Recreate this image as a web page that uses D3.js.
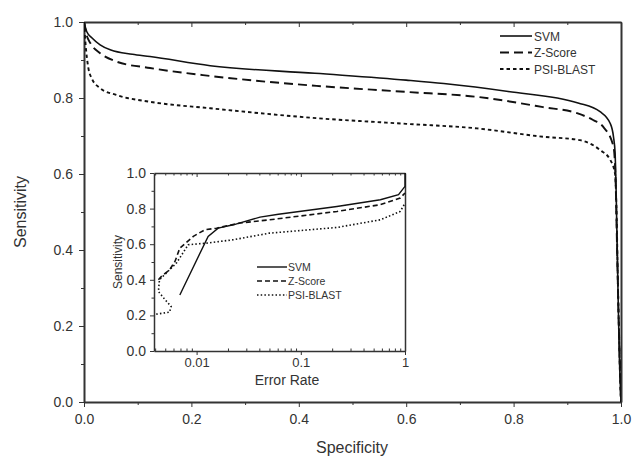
<!DOCTYPE html>
<html>
<head>
<meta charset="utf-8">
<script src="https://cdn.jsdelivr.net/npm/d3@7"></script>
<style>
  body { margin: 0; background: #fff; }
  svg { font-family: "Liberation Sans", Arial, sans-serif; }
  .axis path, .axis line { stroke: #333; }
  .axis text { fill: #333; }
</style>
</head>
<body>
<script>
// main ROC curves: specificity (x) vs sensitivity (y)
const svmX = [0, 0.005, 0.015, 0.03, 0.05, 0.09, 0.123, 0.235, 0.43, 0.6, 0.67, 0.79, 0.92, 0.961, 0.98, 0.986, 0.989, 0.991, 0.993, 0.995, 0.997, 1.0];
const svmY = [1.0, 0.975, 0.958, 0.94, 0.926, 0.915, 0.909, 0.885, 0.865, 0.847, 0.838, 0.817, 0.787, 0.764, 0.733, 0.698, 0.655, 0.55, 0.4, 0.25, 0.12, 0.0];

const zX = [0, 0.005, 0.012, 0.03, 0.06, 0.123, 0.235, 0.433, 0.6, 0.732, 0.855, 0.918, 0.948, 0.967, 0.986, 0.99, 0.992, 0.994, 0.996, 0.998, 1.0];
const zY = [1.0, 0.965, 0.944, 0.918, 0.896, 0.879, 0.858, 0.832, 0.816, 0.803, 0.776, 0.76, 0.742, 0.724, 0.672, 0.58, 0.45, 0.32, 0.2, 0.1, 0.0];

const psiX = [0, 0.003, 0.008, 0.015, 0.03, 0.06, 0.123, 0.235, 0.433, 0.6, 0.732, 0.855, 0.924, 0.961, 0.98, 0.989, 0.992, 0.994, 0.996, 0.998, 1.0];
const psiY = [1.0, 0.94, 0.88, 0.85, 0.826, 0.808, 0.79, 0.773, 0.747, 0.732, 0.72, 0.698, 0.689, 0.663, 0.637, 0.6, 0.48, 0.33, 0.2, 0.08, 0.0];

// inset: error rate (log x) vs sensitivity
const inSvmX = [0.0069, 0.0129, 0.0161, 0.0225, 0.0406, 0.061, 0.222, 0.58, 0.867, 1.0, 1.0];
const inSvmY = [0.315, 0.644, 0.69, 0.709, 0.752, 0.768, 0.812, 0.85, 0.878, 0.925, 1.0];

const inZX = [0.0043, 0.0046, 0.0055, 0.0062, 0.0069, 0.0093, 0.012, 0.0155, 0.026, 0.05, 0.222, 0.58, 0.9, 1.0];
const inZY = [0.40, 0.419, 0.456, 0.503, 0.578, 0.644, 0.681, 0.69, 0.719, 0.737, 0.784, 0.822, 0.859, 0.888];

const inPsiX = [0.0041, 0.0055, 0.0057, 0.005, 0.0043, 0.0044, 0.0053, 0.0064, 0.0072, 0.0083, 0.0125, 0.0225, 0.05, 0.222, 0.58, 0.9, 1.0];
const inPsiY = [0.207, 0.218, 0.25, 0.287, 0.334, 0.40, 0.447, 0.494, 0.54, 0.597, 0.606, 0.625, 0.662, 0.694, 0.737, 0.784, 0.83];

const seriesNames = ['SVM', 'Z-Score', 'PSI-BLAST'];
const mainTicks = [0, 0.2, 0.4, 0.6, 0.8, 1.0];
const mainMinor = [0.1, 0.3, 0.5, 0.7, 0.9];
const insetXTicks = [0.01, 0.1, 1];
const insetXMinor = [0.004, 0.005, 0.006, 0.007, 0.008, 0.009, 0.02, 0.03, 0.04, 0.05, 0.06, 0.07, 0.08, 0.09,
  0.2, 0.3, 0.4, 0.5, 0.6, 0.7, 0.8, 0.9];

const mainDash = ['none', '9,5', '3.5,3'];
const insetDash = ['none', '5,3', '1.5,2.2'];

const svg = d3.select('body').append('svg')
  .attr('width', 632)
  .attr('height', 458);

// ---- main plot ----
const x = d3.scaleLinear().domain([0, 1]).range([84, 621]);
const y = d3.scaleLinear().domain([0, 1]).range([402, 22]);

const fmt = d3.format('.1f');

svg.append('g').attr('class', 'axis')
  .attr('transform', 'translate(0,402)')
  .call(d3.axisBottom(x).tickValues(mainTicks).tickFormat(fmt).tickSizeInner(5).tickSizeOuter(0).tickPadding(7))
  .call(g => g.selectAll('text').attr('font-size', 14))
  .call(g => g.select('.domain').attr('stroke-width', 2));
svg.append('g').attr('class', 'axis')
  .attr('transform', 'translate(0,402)')
  .call(d3.axisBottom(x).tickValues(mainMinor).tickFormat('').tickSizeInner(3).tickSizeOuter(0))
  .call(g => g.select('.domain').remove());

svg.append('g').attr('class', 'axis')
  .attr('transform', 'translate(0,22)')
  .call(d3.axisTop(x).tickValues(mainTicks).tickFormat('').tickSizeInner(-5).tickSizeOuter(0))
  .call(g => g.select('.domain').attr('stroke-width', 2));
svg.append('g').attr('class', 'axis')
  .attr('transform', 'translate(0,22)')
  .call(d3.axisTop(x).tickValues(mainMinor).tickFormat('').tickSizeInner(-3).tickSizeOuter(0))
  .call(g => g.select('.domain').remove());

svg.append('g').attr('class', 'axis')
  .attr('transform', 'translate(84,0)')
  .call(d3.axisLeft(y).tickValues(mainTicks).tickFormat(fmt).tickSizeInner(5).tickSizeOuter(0).tickPadding(6))
  .call(g => g.selectAll('text').attr('font-size', 14))
  .call(g => g.select('.domain').attr('stroke-width', 2));
svg.append('g').attr('class', 'axis')
  .attr('transform', 'translate(84,0)')
  .call(d3.axisLeft(y).tickValues(mainMinor).tickFormat('').tickSizeInner(3).tickSizeOuter(0))
  .call(g => g.select('.domain').remove());

svg.append('g').attr('class', 'axis')
  .attr('transform', 'translate(621,0)')
  .call(d3.axisRight(y).tickValues([]).tickSizeOuter(0))
  .call(g => g.select('.domain').attr('stroke-width', 2).attr('stroke', '#666'));

svg.append('text')
  .attr('x', 352).attr('y', 453)
  .attr('text-anchor', 'middle')
  .attr('font-size', 16).attr('fill', '#333')
  .text('Specificity');
svg.append('text')
  .attr('transform', 'translate(26,212) rotate(-90)')
  .attr('text-anchor', 'middle')
  .attr('font-size', 16).attr('fill', '#333')
  .text('Sensitivity');

svg.append('clipPath').attr('id', 'mainclip')
  .append('rect').attr('x', 84).attr('y', 21).attr('width', 537).attr('height', 381);

const mainSeries = [[svmX, svmY], [zX, zY], [psiX, psiY]];
const mainLine = d3.line()
  .x(d => x(d[0]))
  .y(d => y(d[1]))
  .curve(d3.curveMonotoneX);

svg.append('g').attr('clip-path', 'url(#mainclip)')
  .selectAll('path')
  .data(mainSeries)
  .enter().append('path')
  .attr('d', s => mainLine(s[0].map((v, i) => [v, s[1][i]])))
  .attr('fill', 'none')
  .attr('stroke', '#111')
  .attr('stroke-width', (s, i) => i === 0 ? 1.6 : 1.9)
  .attr('stroke-dasharray', (s, i) => mainDash[i]);

// main legend
const leg = svg.append('g').attr('transform', 'translate(500,36)');
seriesNames.forEach((name, i) => {
  leg.append('line')
    .attr('x1', 0).attr('x2', 32)
    .attr('y1', i * 16.5).attr('y2', i * 16.5)
    .attr('stroke', '#111')
    .attr('stroke-width', i === 0 ? 1.6 : 1.9)
    .attr('stroke-dasharray', mainDash[i]);
  leg.append('text')
    .attr('x', 34).attr('y', i * 16.5 + 4.5)
    .attr('font-size', 12).attr('fill', '#333')
    .text(name);
});

// ---- inset ----
const ix = d3.scaleLog().domain([0.0039, 1]).range([154, 405]);
const iy = d3.scaleLinear().domain([0, 1]).range([351, 173]);

svg.append('rect')
  .attr('x', 154).attr('y', 173).attr('width', 251).attr('height', 178)
  .attr('fill', '#fff');

svg.append('g').attr('class', 'axis')
  .attr('transform', 'translate(0,351)')
  .call(d3.axisBottom(ix).tickValues(insetXTicks).tickFormat(d3.format('')).tickSizeInner(4).tickSizeOuter(0).tickPadding(3))
  .call(g => g.selectAll('text').attr('font-size', 13))
  .call(g => g.select('.domain').attr('stroke-width', 1.5));
svg.append('g').attr('class', 'axis')
  .attr('transform', 'translate(0,351)')
  .call(d3.axisBottom(ix).tickValues(insetXMinor).tickFormat('').tickSizeInner(-2.5).tickSizeOuter(0))
  .call(g => g.select('.domain').remove());

svg.append('g').attr('class', 'axis')
  .attr('transform', 'translate(0,173)')
  .call(d3.axisTop(ix).tickValues(insetXTicks).tickFormat('').tickSizeInner(-4).tickSizeOuter(0))
  .call(g => g.select('.domain').attr('stroke-width', 1.5));
svg.append('g').attr('class', 'axis')
  .attr('transform', 'translate(0,173)')
  .call(d3.axisTop(ix).tickValues(insetXMinor).tickFormat('').tickSizeInner(-2.5).tickSizeOuter(0))
  .call(g => g.select('.domain').remove());

svg.append('g').attr('class', 'axis')
  .attr('transform', 'translate(154,0)')
  .call(d3.axisLeft(iy).tickValues(mainTicks).tickFormat(fmt).tickSizeInner(4).tickSizeOuter(0).tickPadding(4))
  .call(g => g.selectAll('text').attr('font-size', 14))
  .call(g => g.select('.domain').attr('stroke-width', 1.5));
svg.append('g').attr('class', 'axis')
  .attr('transform', 'translate(154,0)')
  .call(d3.axisLeft(iy).tickValues(mainMinor).tickFormat('').tickSizeInner(2.5).tickSizeOuter(0))
  .call(g => g.select('.domain').remove());

svg.append('g').attr('class', 'axis')
  .attr('transform', 'translate(405,0)')
  .call(d3.axisRight(iy).tickValues([]).tickSizeOuter(0))
  .call(g => g.select('.domain').attr('stroke-width', 1.5).attr('stroke', '#555'));

svg.append('text')
  .attr('x', 287).attr('y', 385)
  .attr('text-anchor', 'middle')
  .attr('font-size', 14).attr('fill', '#333')
  .text('Error Rate');
svg.append('text')
  .attr('transform', 'translate(122,262) rotate(-90)')
  .attr('text-anchor', 'middle')
  .attr('font-size', 12).attr('fill', '#333')
  .text('Sensitivity');

svg.append('clipPath').attr('id', 'insetclip')
  .append('rect').attr('x', 154).attr('y', 172).attr('width', 252).attr('height', 179);

const insetSeries = [[inSvmX, inSvmY], [inZX, inZY], [inPsiX, inPsiY]];
const insetLine = d3.line()
  .x(d => ix(d[0]))
  .y(d => iy(d[1]));

svg.append('g').attr('clip-path', 'url(#insetclip)')
  .selectAll('path')
  .data(insetSeries)
  .enter().append('path')
  .attr('d', s => insetLine(s[0].map((v, i) => [v, s[1][i]])))
  .attr('fill', 'none')
  .attr('stroke', '#111')
  .attr('stroke-width', (s, i) => i === 0 ? 1.4 : 1.6)
  .attr('stroke-dasharray', (s, i) => insetDash[i]);

// inset legend
const ileg = svg.append('g').attr('transform', 'translate(257,267)');
seriesNames.forEach((name, i) => {
  ileg.append('line')
    .attr('x1', 0).attr('x2', 30)
    .attr('y1', i * 14).attr('y2', i * 14)
    .attr('stroke', '#111')
    .attr('stroke-width', i === 0 ? 1.4 : 1.6)
    .attr('stroke-dasharray', insetDash[i]);
  ileg.append('text')
    .attr('x', 31).attr('y', i * 14 + 4)
    .attr('font-size', 10.5).attr('fill', '#333')
    .text(name);
});
</script>
</body>
</html>
